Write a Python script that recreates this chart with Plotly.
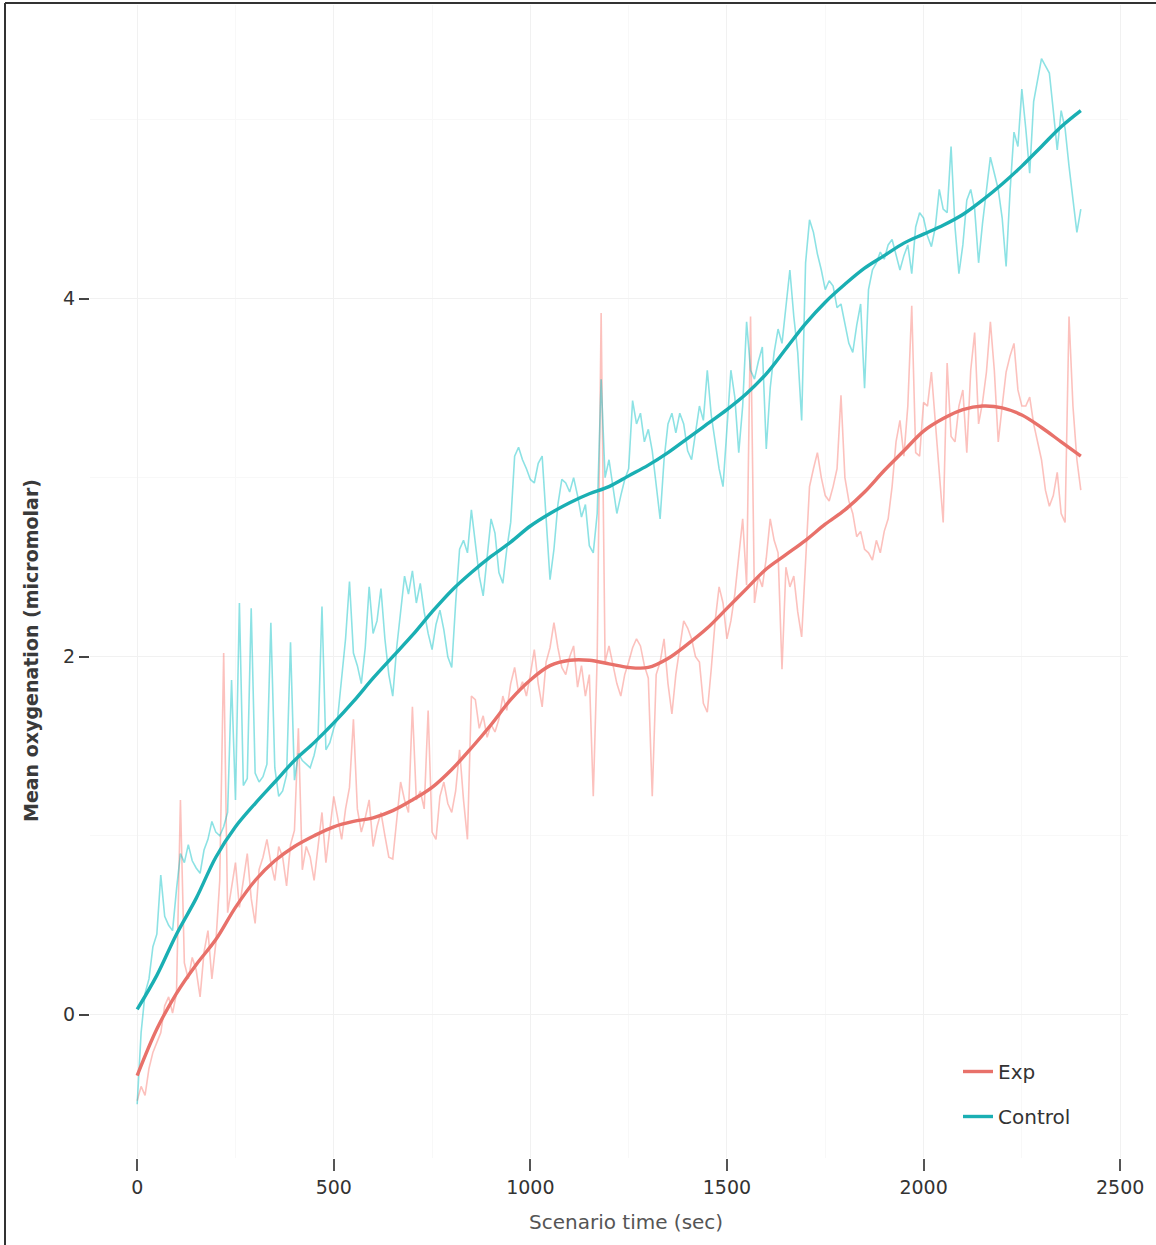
import plotly.graph_objs as go

# sample times of the raw traces (every 10 s)
time_raw = list(range(0, 2401, 10))

control_raw = [
    -0.50, -0.10, 0.12, 0.20, 0.38, 0.45, 0.78, 0.55, 0.50, 0.47,
    0.70, 0.90, 0.85, 0.95, 0.86, 0.82, 0.79, 0.92, 0.98, 1.08,
    1.02, 1.00, 1.05, 1.13, 1.87, 1.20, 2.30, 1.28, 1.32, 2.27,
    1.35, 1.30, 1.33, 1.40, 2.19, 1.38, 1.22, 1.25, 1.34, 2.08,
    1.31, 1.46, 1.42, 1.40, 1.38, 1.45, 1.55, 2.28, 1.48, 1.52,
    1.60, 1.66, 1.87, 2.10, 2.42, 2.02, 1.95, 1.85, 2.05, 2.39,
    2.13, 2.20, 2.38, 2.10, 1.90, 1.78, 2.05, 2.26, 2.45, 2.35,
    2.48, 2.30, 2.41, 2.25, 2.13, 2.04, 2.18, 2.26, 2.15, 2.00,
    1.94, 2.30, 2.60, 2.65, 2.58, 2.82, 2.62, 2.45, 2.34, 2.55,
    2.77, 2.69, 2.47, 2.41, 2.60, 2.75, 3.12, 3.17, 3.10, 3.05,
    2.99, 2.97, 3.08, 3.12, 2.80, 2.43, 2.60, 2.85, 2.99, 2.97,
    2.92, 3.00, 2.90, 2.78, 2.85, 2.62, 2.58, 2.80, 3.55, 3.00,
    3.10, 2.95, 2.80, 2.90, 2.99, 3.05, 3.43, 3.30, 3.36, 3.20,
    3.27, 3.15, 2.95, 2.77, 3.10, 3.30, 3.36, 3.25, 3.36, 3.30,
    3.15, 3.10, 3.25, 3.40, 3.32, 3.60, 3.35, 3.20, 3.05, 2.95,
    3.30, 3.60, 3.45, 3.14, 3.40, 3.87, 3.60, 3.55, 3.65, 3.73,
    3.16, 3.50, 3.70, 3.83, 3.75, 3.95, 4.16, 3.90, 3.70, 3.32,
    4.20, 4.44, 4.37, 4.25, 4.16, 4.05, 4.10, 4.07, 3.95, 3.97,
    3.85, 3.75, 3.70, 3.85, 3.97, 3.50, 4.05, 4.16, 4.20, 4.26,
    4.22, 4.30, 4.33, 4.25, 4.16, 4.24, 4.30, 4.14, 4.40, 4.48,
    4.45, 4.35, 4.29, 4.40, 4.61, 4.50, 4.48, 4.85, 4.40, 4.14,
    4.30, 4.55, 4.61, 4.50, 4.20, 4.42, 4.60, 4.79, 4.70, 4.61,
    4.45, 4.18, 4.60, 4.93, 4.85, 5.17, 4.95, 4.70, 5.10, 5.22,
    5.34, 5.30, 5.26, 5.05, 4.83, 5.05, 4.95, 4.74, 4.55, 4.37,
    4.50,
]

exp_raw = [
    -0.48, -0.40, -0.45, -0.30, -0.21, -0.15, -0.10, 0.05, 0.10, 0.01,
    0.12, 1.20, 0.29, 0.20, 0.32, 0.25, 0.10, 0.35, 0.47, 0.20,
    0.40, 0.75, 2.02, 0.57, 0.70, 0.85, 0.60, 0.75, 0.90, 0.65,
    0.51, 0.81, 0.88, 0.98, 0.85, 0.75, 0.94, 0.88, 0.72, 0.95,
    1.03, 1.60, 0.81, 0.94, 0.88, 0.75, 0.95, 1.13, 0.85, 1.05,
    1.22, 1.10, 0.98, 1.15, 1.27, 1.65, 1.15, 1.02, 1.10, 1.20,
    0.94, 1.05, 1.13, 1.00, 0.88, 0.87, 1.10, 1.30, 1.20, 1.13,
    1.72, 1.20, 1.25, 1.15, 1.70, 1.02, 0.98, 1.22, 1.30, 1.18,
    1.13, 1.25, 1.48, 1.20, 0.98, 1.78, 1.76, 1.60, 1.67, 1.55,
    1.62, 1.58, 1.65, 1.78, 1.70, 1.85, 1.94, 1.80, 1.86, 1.78,
    1.90, 2.04, 1.85, 1.72, 1.97, 2.05, 2.19, 2.05, 1.94, 1.90,
    2.00, 2.06, 1.83, 1.95, 1.78, 1.90, 1.22, 2.00, 3.92, 1.97,
    2.06, 1.95, 1.85, 1.78, 1.90, 1.97, 2.05, 2.10, 2.06, 1.95,
    1.88, 1.22, 1.90, 1.97, 2.10, 1.85, 1.68, 1.90, 2.06, 2.20,
    2.16, 2.10, 2.00, 1.97, 1.74, 1.69, 1.93, 2.20, 2.39, 2.30,
    2.10, 2.20, 2.35, 2.58, 2.77, 2.40, 3.90, 2.30, 2.45, 2.39,
    2.55, 2.77, 2.65, 2.58, 1.93, 2.50, 2.39, 2.45, 2.25, 2.11,
    2.50, 2.95, 3.05, 3.14, 3.00, 2.90, 2.87, 2.95, 3.05, 3.46,
    3.00, 2.87, 2.80, 2.67, 2.70, 2.60, 2.58, 2.54, 2.65, 2.58,
    2.70, 2.77, 2.95, 3.20, 3.32, 3.12, 3.40, 3.96, 3.14, 3.12,
    3.42, 3.40, 3.59, 3.30, 3.05, 2.75, 3.64, 3.23, 3.20, 3.40,
    3.49, 3.14, 3.60, 3.81, 3.30, 3.42, 3.59, 3.87, 3.60, 3.20,
    3.40, 3.59, 3.68, 3.75, 3.49, 3.40, 3.40, 3.45, 3.30, 3.20,
    3.10, 2.93, 2.84, 2.90, 3.03, 2.80, 2.75, 3.90, 3.40, 3.10,
    2.93,
]

# smoothed fits, every 50 s
time_fit = list(range(0, 2401, 50))

control_fit = [
    0.03, 0.22, 0.45, 0.65, 0.88, 1.05, 1.18, 1.30, 1.42, 1.52,
    1.63, 1.75, 1.88, 2.00, 2.12, 2.25, 2.37, 2.47, 2.56, 2.64,
    2.73, 2.80, 2.86, 2.91, 2.95, 3.01, 3.07, 3.14, 3.22, 3.30,
    3.38, 3.47, 3.58, 3.72, 3.86, 3.98, 4.08, 4.17, 4.24, 4.31,
    4.36, 4.41, 4.47, 4.55, 4.64, 4.74, 4.85, 4.96, 5.05,
]

exp_fit = [
    -0.34, -0.08, 0.12, 0.28, 0.42, 0.60, 0.75, 0.86, 0.94, 1.00,
    1.05, 1.08, 1.10, 1.14, 1.20, 1.27, 1.37, 1.49, 1.62, 1.76,
    1.87, 1.95, 1.98, 1.98, 1.96, 1.94, 1.94, 1.99, 2.07, 2.16,
    2.27, 2.38, 2.49, 2.57, 2.65, 2.74, 2.82, 2.92, 3.04, 3.15,
    3.26, 3.33, 3.38, 3.40, 3.39, 3.35, 3.28, 3.20, 3.12,
]

x_ticks = [0, 500, 1000, 1500, 2000, 2500]
y_ticks = [0, 2, 4]

W, H = 1156, 1245
L, R, T, B = 90, 28, 5, 87
pw, ph = W - L - R, H - T - B


def px_x(p):
    return (p - L) / pw


def px_y(p):
    return (H - B - p) / ph


font = "DejaVu Sans"

exp_raw_line = go.Scatter(x=time_raw, y=exp_raw, mode="lines", showlegend=False,
                          hoverinfo="skip",
                          line=dict(color="rgba(248,118,109,0.45)", width=1.6))
ctrl_raw_line = go.Scatter(x=time_raw, y=control_raw, mode="lines", showlegend=False,
                           hoverinfo="skip",
                           line=dict(color="rgba(0,191,196,0.45)", width=1.6))
exp_fit_line = go.Scatter(x=time_fit, y=exp_fit, mode="lines", name="Exp",
                          legendgroup="a",
                          line=dict(color="#E8716A", width=3.4, shape="spline"))
ctrl_fit_line = go.Scatter(x=time_fit, y=control_fit, mode="lines", name="Control",
                           legendgroup="b",
                           line=dict(color="#1AAFB3", width=3.4, shape="spline"))

layout = go.Layout(
    width=W, height=H,
    margin=dict(l=L, r=R, t=T, b=B, autoexpand=False),
    paper_bgcolor="white", plot_bgcolor="white",
    font=dict(family=font, size=19, color="#333"),
    xaxis=dict(range=[-120, 2520], tickvals=x_ticks, ticks="outside", ticklen=12,
               tickwidth=2, tickcolor="#555", showgrid=True, gridcolor="#F1F1F1",
               gridwidth=1, zeroline=False, showline=False, automargin=False,
               minor=dict(dtick=250, tick0=0, showgrid=True, gridcolor="#F8F8F8"),
               tickfont=dict(size=19, color="#333")),
    yaxis=dict(range=[-0.8, 5.64], tickvals=y_ticks, ticks="outside", ticklen=10,
               tickwidth=2, tickcolor="#444", showgrid=True, gridcolor="#F1F1F1",
               gridwidth=1, zeroline=False, showline=False, automargin=False,
               minor=dict(dtick=1, tick0=0, showgrid=True, gridcolor="#F8F8F8"),
               tickfont=dict(size=19, color="#333")),
    legend=dict(x=px_x(958), y=px_y(1052), xanchor="left", yanchor="top",
                bgcolor="rgba(0,0,0,0)", tracegroupgap=16,
                font=dict(size=20, color="#333")),
    annotations=[
        dict(text="Scenario time (sec)", xref="paper", yref="paper",
             x=px_x(626), y=px_y(1222), xanchor="center", yanchor="middle",
             showarrow=False, font=dict(size=20, color="#555")),
        dict(text="<b>Mean oxygenation (micromolar)</b>", xref="paper", yref="paper",
             x=px_x(31), y=px_y(651), xanchor="center", yanchor="middle",
             textangle=-90, showarrow=False, font=dict(size=19, color="#3a3a3a")),
    ],
    shapes=[
        dict(type="line", xref="paper", yref="paper", x0=px_x(5), x1=px_x(W),
             y0=px_y(3), y1=px_y(3), line=dict(color="#333", width=2)),
        dict(type="line", xref="paper", yref="paper", x0=px_x(5), x1=px_x(5),
             y0=px_y(3), y1=px_y(H), line=dict(color="#333", width=2)),
    ],
)

fig = go.Figure(data=[exp_raw_line, ctrl_raw_line, exp_fit_line, ctrl_fit_line],
                layout=layout)
# drop the default page margin so the figure sits at the window corner
fig.write_html("out.html", config={"displayModeBar": False},
               post_script="document.body.style.margin='0';")
